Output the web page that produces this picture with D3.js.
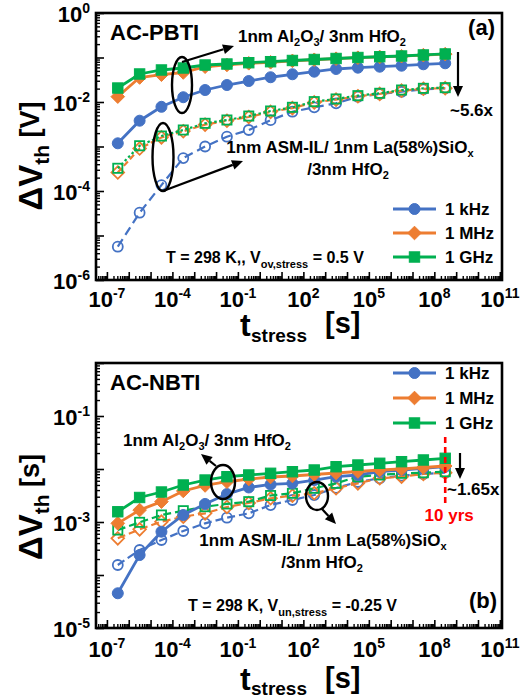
<!DOCTYPE html>
<html><head><meta charset="utf-8">
<script src="https://cdn.jsdelivr.net/npm/d3@7"></script>
<style>
body{margin:0;background:#fff}
text{font-family:"Liberation Sans",Arial,sans-serif;font-weight:bold}
</style>
</head><body>
<svg id="c" width="527" height="700" xmlns="http://www.w3.org/2000/svg"></svg>
<script>
// ---------- data ----------
const times = [3.15e-7,3.15e-6,3.15e-5,3.15e-4,3.15e-3,3.15e-2,3.15e-1,3.15,31.5,315,3150,31500,315000,3.15e6,3.15e7,3.15e8];
const freqLabels = ["1 kHz","1 MHz","1 GHz"];
const xTickValues = [1e-7,1e-4,1e-1,1e2,1e5,1e8,1e11];
const xTickExps = ["-7","-4","-1","2","5","8","11"];
const pbtiYTickValues = [1e0,1e-2,1e-4,1e-6];
const pbtiYTickExps = ["0","-2","-4","-6"];
const nbtiYTickValues = [1e-1,1e-3,1e-5];
const nbtiYTickExps = ["-1","-3","-5"];

// AC-PBTI, 1nm Al2O3 / 3nm HfO2 (solid, filled)
const pbtiAl_1kHz = [1.18e-3,3.8e-3,7.8e-3,1.28e-2,1.86e-2,2.41e-2,2.96e-2,3.6e-2,4.2e-2,4.8e-2,5.52e-2,5.9e-2,6.21e-2,6.54e-2,7.04e-2,7.41e-2];
const pbtiAl_1MHz = [1.32e-2,3.55e-2,4.1e-2,4.6e-2,6.2e-2,6.8e-2,7.4e-2,7.8e-2,8.4e-2,8.9e-2,9.4e-2,9.9e-2,0.103,0.107,0.113,0.119];
const pbtiAl_1GHz = [2.06e-2,4.26e-2,5.24e-2,5.81e-2,6.78e-2,7.14e-2,7.64e-2,8.05e-2,8.57e-2,9.02e-2,9.5e-2,0.100,0.104,0.108,0.114,0.120];
// AC-PBTI, 1nm ASM-IL / 1nm La(58%)SiOx / 3nm HfO2 (dashed, open)
const pbtiLa_1kHz = [5.6e-6,3.25e-5,1.36e-4,5.5e-4,1.0e-3,1.66e-3,2.35e-3,3.9e-3,6.05e-3,7.6e-3,9.35e-3,1.315e-2,1.51e-2,1.7e-2,1.93e-2,2.03e-2];
const pbtiLa_1MHz = [2.6e-4,9.0e-4,1.6e-3,2.2e-3,3.1e-3,3.8e-3,4.6e-3,6.0e-3,7.3e-3,9.8e-3,1.13e-2,1.35e-2,1.52e-2,1.8e-2,1.98e-2,2.05e-2];
const pbtiLa_1GHz = [3.24e-4,1.04e-3,1.72e-3,2.35e-3,3.32e-3,3.94e-3,4.84e-3,6.28e-3,7.6e-3,1.02e-2,1.17e-2,1.39e-2,1.57e-2,1.86e-2,2.03e-2,2.1e-2];

// AC-NBTI, 1nm Al2O3 / 3nm HfO2
const nbtiAl_1kHz = [4.52e-5,2.38e-4,6.56e-4,1.355e-3,2.19e-3,3.37e-3,4.48e-3,5.11e-3,5.37e-3,6.19e-3,7.16e-3,7.71e-3,8.89e-3,9.57e-3,1.03e-2,1.104e-2];
const nbtiAl_1MHz = [9.44e-4,1.68e-3,2.42e-3,3.85e-3,4.89e-3,5.75e-3,6.47e-3,7.06e-3,7.38e-3,7.87e-3,8.41e-3,8.97e-3,9.57e-3,1.0e-2,1.067e-2,1.14e-2];
const nbtiAl_1GHz = [1.56e-3,2.9e-3,3.68e-3,4.99e-3,6.19e-3,7.16e-3,7.71e-3,8.3e-3,8.89e-3,9.57e-3,1.104e-2,1.189e-2,1.282e-2,1.374e-2,1.479e-2,1.592e-2];
// AC-NBTI, 1nm ASM-IL / 1nm La(58%)SiOx / 3nm HfO2
const nbtiLa_1kHz = [1.545e-4,2.96e-4,4.57e-4,6.76e-4,9.44e-4,1.205e-3,1.459e-3,2.09e-3,2.6e-3,3.23e-3,4.39e-3,5.69e-3,6.68e-3,7.48e-3,8.05e-3,8.51e-3];
const nbtiLa_1MHz = [4.92e-4,7.28e-4,1.014e-3,1.259e-3,1.459e-3,1.919e-3,2.28e-3,2.8e-3,3.13e-3,3.48e-3,4.33e-3,5.37e-3,6.68e-3,7.16e-3,8.05e-3,8.51e-3];
const nbtiLa_1GHz = [7.06e-4,9.86e-4,1.355e-3,1.633e-3,1.945e-3,2.19e-3,2.42e-3,3.16e-3,3.48e-3,4.33e-3,5.37e-3,7.16e-3,7.71e-3,8.3e-3,8.51e-3,8.89e-3];

// ---------- styles ----------
const BLUE = "#4472C4", ORANGE = "#ED7D31", GREEN = "#00B050";
const colors = [BLUE, ORANGE, GREEN];
const shapes = ["circle","diamond","square"];

const svg = d3.select("#c");

function rich(sel, x, y, parts, opts = {}) {
  const t = sel.append("text").attr("x", x).attr("y", y)
    .attr("text-anchor", opts.anchor || "start")
    .attr("fill", opts.fill || "#000");
  if (opts.transform) t.attr("transform", opts.transform);
  let prev = 0;
  parts.forEach(([s, size, shift = 0]) => {
    t.append("tspan").attr("font-size", size).attr("dy", shift - prev).text(s);
    prev = shift;
  });
  return t;
}

function marker(sel, shape, cx, cy, color, filled) {
  let el;
  if (shape === "circle") {
    el = sel.append("circle").attr("cx", cx).attr("cy", cy).attr("r", filled ? 5.5 : 5);
  } else if (shape === "diamond") {
    const s = filled ? 6.8 : 6.3;
    el = sel.append("path").attr("d", `M${cx},${cy - s}L${cx + s},${cy}L${cx},${cy + s}L${cx - s},${cy}Z`);
  } else {
    const s = filled ? 5.2 : 4.6;
    el = sel.append("rect").attr("x", cx - s).attr("y", cy - s).attr("width", 2 * s).attr("height", 2 * s);
  }
  if (filled) el.attr("fill", color).attr("stroke", color).attr("stroke-width", 1);
  else el.attr("fill", "none").attr("stroke", color).attr("stroke-width", 1.8);
}

function arrow(sel, x1, y1, x2, y2, hl = 11, hw = 5) {
  const a = Math.atan2(y2 - y1, x2 - x1);
  const bx = x2 - hl * Math.cos(a), by = y2 - hl * Math.sin(a);
  sel.append("line").attr("x1", x1).attr("y1", y1).attr("x2", bx).attr("y2", by)
    .attr("stroke", "#000").attr("stroke-width", 2.2);
  const px = -Math.sin(a) * hw, py = Math.cos(a) * hw;
  sel.append("path").attr("d", `M${x2},${y2}L${bx + px},${by + py}L${bx - px},${by - py}Z`).attr("fill", "#000");
}

function panel(o) {
  const L = 96, R = 502;
  const x = d3.scaleLog().domain([Math.pow(10, -7.5), Math.pow(10, 11.1)]).range([L, R]);
  const y = d3.scaleLog().domain(o.yDomain).range([o.bottom, o.top]);
  const g = svg.append("g");

  const xMinor = [], xMajor = [];
  for (let n = -8; n <= 11; n++) {
    xMajor.push(Math.pow(10, n));
    for (let m = 2; m <= 9; m++) xMinor.push(m * Math.pow(10, n));
  }
  const xIn = v => v >= x.domain()[0] && v <= x.domain()[1];
  g.append("g").attr("transform", `translate(0,${o.bottom})`)
    .call(d3.axisBottom(x).tickValues(xMinor.filter(xIn)).tickSizeInner(-4).tickSizeOuter(0).tickFormat(""))
    .call(s => { s.select(".domain").remove(); s.selectAll("line").attr("stroke-width", 1.4); });
  g.append("g").attr("transform", `translate(0,${o.bottom})`)
    .call(d3.axisBottom(x).tickValues(xMajor.filter(xIn)).tickSizeInner(-8).tickSizeOuter(0).tickFormat(""))
    .call(s => { s.select(".domain").remove(); s.selectAll("line").attr("stroke-width", 1.6); });

  const yMinor = [], yMajor = [];
  const lo = Math.round(Math.log10(o.yDomain[0])), hi = Math.round(Math.log10(o.yDomain[1]));
  for (let n = lo; n <= hi; n++) {
    yMajor.push(Math.pow(10, n));
    if (n < hi) for (let m = 2; m <= 9; m++) yMinor.push(m * Math.pow(10, n));
  }
  g.append("g").attr("transform", `translate(${L},0)`)
    .call(d3.axisLeft(y).tickValues(yMinor).tickSizeInner(-4).tickSizeOuter(0).tickFormat(""))
    .call(s => { s.select(".domain").remove(); s.selectAll("line").attr("stroke-width", 1.4); });
  g.append("g").attr("transform", `translate(${L},0)`)
    .call(d3.axisLeft(y).tickValues(yMajor).tickSizeInner(-8).tickSizeOuter(0).tickFormat(""))
    .call(s => { s.select(".domain").remove(); s.selectAll("line").attr("stroke-width", 1.6); });

  xTickValues.forEach((v, i) => {
    rich(g, x(v), o.xLabelBase, [["10", 22], [xTickExps[i], 14, -9]], { anchor: "middle" });
  });
  o.yTicks.forEach((v, i) => {
    rich(g, 90, y(v) + 9, [["10", 22], [o.yExps[i], 14, -9]], { anchor: "end" });
  });

  const order = [[o.la, 0], [o.la, 1], [o.la, 2], [o.al, 0], [o.al, 1], [o.al, 2]];
  order.forEach(([set, k]) => {
    const solid = set === o.al;
    const pts = times.map((t, i) => ({ t, v: set[k][i] }));
    const line = d3.line().x(d => x(d.t)).y(d => y(d.v));
    const p = g.append("path").datum(pts).attr("d", line).attr("fill", "none")
      .attr("stroke", colors[k]).attr("stroke-width", solid ? 2.8 : 2.2);
    if (!solid) p.attr("stroke-dasharray", o.dashes[k]);
    const mg = g.append("g");
    pts.forEach(d => marker(mg, shapes[k], x(d.t), y(d.v), colors[k], solid));
  });

  g.append("rect").attr("x", L).attr("y", o.top).attr("width", R - L).attr("height", o.bottom - o.top)
    .attr("fill", "none").attr("stroke", "#000").attr("stroke-width", 2.6);

  o.legendRows.forEach((ly, k) => {
    g.append("line").attr("x1", 393).attr("x2", 436).attr("y1", ly).attr("y2", ly)
      .attr("stroke", colors[k]).attr("stroke-width", 3);
    marker(g, shapes[k], 414.5, ly, colors[k], true);
    g.append("text").attr("x", 445).attr("y", ly + 6).attr("font-size", 17).text(freqLabels[k]);
  });

  return { g, x, y };
}

// ---------- top panel: AC-PBTI ----------
const panelA = panel({
  top: 13, bottom: 280, yDomain: [1e-6, 1e0], xLabelBase: 307,
  yTicks: pbtiYTickValues, yExps: pbtiYTickExps,
  al: [pbtiAl_1kHz, pbtiAl_1MHz, pbtiAl_1GHz],
  la: [pbtiLa_1kHz, pbtiLa_1MHz, pbtiLa_1GHz],
  dashes: ["9,5", "6,3", "2.5,2.5"],
  legendRows: [209, 233, 257]
});
{
  const g = panelA.g;
  g.append("text").attr("x", 110).attr("y", 40).attr("font-size", 22).text("AC-PBTI");
  g.append("text").attr("x", 495).attr("y", 35).attr("font-size", 22).attr("text-anchor", "end").text("(a)");
  rich(g, 238, 42, [["1nm Al", 17], ["2", 11, 4], ["O", 17, 0], ["3", 11, 4], ["/ 3nm HfO", 17, 0], ["2", 11, 4]]);
  rich(g, 350, 153, [["1nm ASM-IL/ 1nm La(58%)SiO", 17], ["x", 11, 4]], { anchor: "middle" });
  rich(g, 348, 175, [["/3nm HfO", 17], ["2", 11, 4]], { anchor: "middle" });
  rich(g, 166, 263, [["T = 298 K,, V", 16], ["ov,stress", 11, 5], [" = 0.5 V", 16, 0]]);
  g.append("ellipse").attr("cx", 182).attr("cy", 85).attr("rx", 10).attr("ry", 28)
    .attr("fill", "none").attr("stroke", "#000").attr("stroke-width", 2.4);
  arrow(g, 182, 62, 234, 46);
  g.append("ellipse").attr("cx", 163).attr("cy", 157).attr("rx", 10.5).attr("ry", 34)
    .attr("fill", "none").attr("stroke", "#000").attr("stroke-width", 2.4);
  arrow(g, 163, 191, 243, 161);
  arrow(g, 458, 52, 458, 97);
  g.append("text").attr("x", 450).attr("y", 116).attr("font-size", 17).text("~5.6x");
  rich(g, 42, 156, [["ΔV", 33], ["th", 21, 7], [" [V]", 27, -3]], { anchor: "middle", transform: "rotate(-90,42,156)" });
  g.append("text").attr("x", 240).attr("y", 336).attr("font-size", 32).text("t");
  g.append("text").attr("x", 251).attr("y", 342).attr("font-size", 19).text("stress");
  g.append("text").attr("x", 325).attr("y", 333).attr("font-size", 29).text("[s]");
}

// ---------- bottom panel: AC-NBTI ----------
const panelB = panel({
  top: 363, bottom: 628, yDomain: [1e-5, 1e0], xLabelBase: 657,
  yTicks: nbtiYTickValues, yExps: nbtiYTickExps,
  al: [nbtiAl_1kHz, nbtiAl_1MHz, nbtiAl_1GHz],
  la: [nbtiLa_1kHz, nbtiLa_1MHz, nbtiLa_1GHz],
  dashes: ["8,4", "8,4", "8,4"],
  legendRows: [373, 398, 423]
});
{
  const g = panelB.g;
  g.append("text").attr("x", 110).attr("y", 390).attr("font-size", 22).text("AC-NBTI");
  g.append("text").attr("x", 497).attr("y", 608).attr("font-size", 22).attr("text-anchor", "end").text("(b)");
  rich(g, 123, 446, [["1nm Al", 17], ["2", 11, 4], ["O", 17, 0], ["3", 11, 4], ["/ 3nm HfO", 17, 0], ["2", 11, 4]]);
  rich(g, 323, 546, [["1nm ASM-IL/ 1nm La(58%)SiO", 17], ["x", 11, 4]], { anchor: "middle" });
  rich(g, 322, 568, [["/3nm HfO", 17], ["2", 11, 4]], { anchor: "middle" });
  rich(g, 188, 611, [["T = 298 K, V", 16], ["un,stress", 11, 5], [" = -0.25 V", 16, 0]]);
  g.append("ellipse").attr("cx", 223).attr("cy", 482).attr("rx", 12).attr("ry", 17)
    .attr("fill", "none").attr("stroke", "#000").attr("stroke-width", 2.4);
  arrow(g, 216, 466, 201, 454);
  g.append("ellipse").attr("cx", 317).attr("cy", 496).attr("rx", 11).attr("ry", 14)
    .attr("fill", "none").attr("stroke", "#000").attr("stroke-width", 2.4);
  arrow(g, 322, 509, 336, 524);
  const x10 = panelB.x(times[times.length - 1]);
  g.append("line").attr("x1", x10).attr("x2", x10).attr("y1", 437).attr("y2", 506)
    .attr("stroke", "#FF0000").attr("stroke-width", 2.6).attr("stroke-dasharray", "6,4");
  g.append("text").attr("x", x10 + 4).attr("y", 521).attr("font-size", 17).attr("fill", "#FF0000")
    .attr("text-anchor", "middle").text("10 yrs");
  arrow(g, 460, 453, 460, 479);
  g.append("text").attr("x", 447).attr("y", 495).attr("font-size", 17).text("~1.65x");
  rich(g, 42, 507, [["ΔV", 33], ["th", 21, 7], [" [s]", 27, -3]], { anchor: "middle", transform: "rotate(-90,42,507)" });
  g.append("text").attr("x", 240).attr("y", 690).attr("font-size", 32).text("t");
  g.append("text").attr("x", 251).attr("y", 695).attr("font-size", 19).text("stress");
  g.append("text").attr("x", 325).attr("y", 688).attr("font-size", 29).text("[s]");
}
</script>
</body></html>
